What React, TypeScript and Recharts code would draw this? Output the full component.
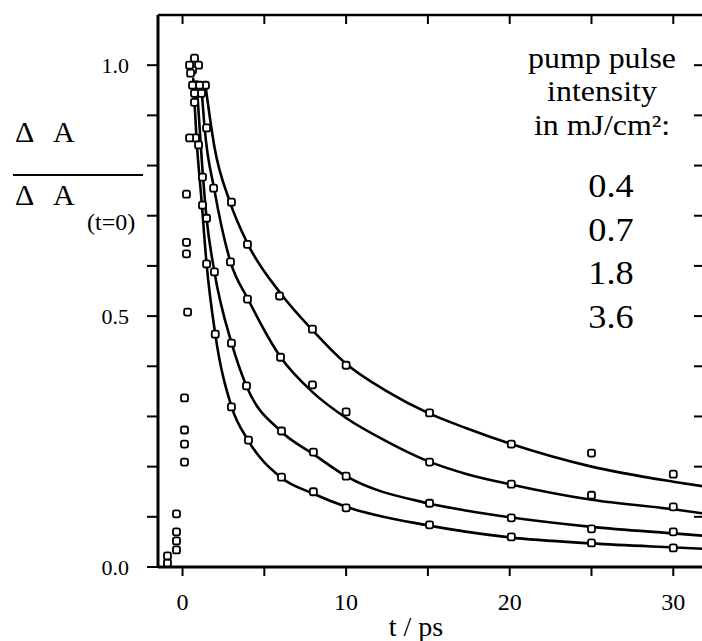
import React from "react";
import { ComposedChart, Line, Scatter, XAxis, YAxis } from "recharts";

// axis ticks
const xTicks = [0, 5, 10, 15, 20, 25, 30];
const xLabels = [0, 10, 20, 30];
const yTicks = [0, 0.1, 0.2, 0.3, 0.4, 0.5, 0.6, 0.7, 0.8, 0.9, 1.0];
const yLabels = [0, 0.5, 1.0];

const legendTitle = ["pump pulse", "intensity", "in mJ/cm²:"];
const intensities = ["0.4", "0.7", "1.8", "3.6"];

// fitted decay curves (t in ps, normalised dA)
const fit04 = [
  { t: 1.4, v: 0.96 }, { t: 1.95, v: 0.837 }, { t: 2.9, v: 0.727 }, { t: 4.0, v: 0.643 },
  { t: 6.0, v: 0.545 }, { t: 8.0, v: 0.47 }, { t: 10.0, v: 0.405 }, { t: 12.5, v: 0.35 },
  { t: 15.0, v: 0.307 }, { t: 17.4, v: 0.276 }, { t: 20.0, v: 0.246 }, { t: 25.0, v: 0.2 },
  { t: 30.0, v: 0.17 }, { t: 32.0, v: 0.16 },
];
const fit07 = [
  { t: 1.15, v: 0.96 }, { t: 1.35, v: 0.875 }, { t: 1.95, v: 0.751 }, { t: 2.93, v: 0.608 },
  { t: 4.0, v: 0.534 }, { t: 6.0, v: 0.418 }, { t: 8.0, v: 0.347 }, { t: 10.0, v: 0.297 },
  { t: 12.5, v: 0.25 }, { t: 15.0, v: 0.211 }, { t: 17.4, v: 0.185 }, { t: 20.0, v: 0.165 },
  { t: 25.0, v: 0.134 }, { t: 30.0, v: 0.115 }, { t: 32.0, v: 0.106 },
];
const fit18 = [
  { t: 0.85, v: 0.97 }, { t: 1.2, v: 0.8 }, { t: 1.47, v: 0.695 }, { t: 1.95, v: 0.588 },
  { t: 3.0, v: 0.446 }, { t: 3.9, v: 0.361 }, { t: 6.0, v: 0.271 }, { t: 8.0, v: 0.225 },
  { t: 10.0, v: 0.181 }, { t: 15.0, v: 0.127 }, { t: 17.4, v: 0.112 }, { t: 20.0, v: 0.099 },
  { t: 25.0, v: 0.08 }, { t: 30.0, v: 0.067 }, { t: 32.0, v: 0.062 },
];
const fit36 = [
  { t: 0.65, v: 0.975 }, { t: 0.86, v: 0.851 }, { t: 1.16, v: 0.731 }, { t: 1.47, v: 0.604 },
  { t: 2.0, v: 0.464 }, { t: 3.0, v: 0.319 }, { t: 4.0, v: 0.253 }, { t: 6.0, v: 0.179 },
  { t: 8.0, v: 0.146 }, { t: 10.0, v: 0.12 }, { t: 15.0, v: 0.083 }, { t: 17.4, v: 0.07 },
  { t: 20.0, v: 0.059 }, { t: 25.0, v: 0.047 }, { t: 30.0, v: 0.039 }, { t: 32.0, v: 0.036 },
];

// measured points
const pts04 = [
  { t: -0.37, v: 0.034 }, { t: 0.12, v: 0.209 }, { t: 0.31, v: 0.508 }, { t: 0.73, v: 1.014 },
  { t: 1.4, v: 0.96 }, { t: 1.47, v: 0.875 }, { t: 2.99, v: 0.727 }, { t: 3.97, v: 0.643 },
  { t: 5.93, v: 0.54 }, { t: 7.94, v: 0.474 }, { t: 10.0, v: 0.402 }, { t: 15.1, v: 0.307 },
  { t: 20.1, v: 0.245 }, { t: 25.0, v: 0.227 }, { t: 30.0, v: 0.185 },
];
const pts07 = [
  { t: -0.37, v: 0.052 }, { t: 0.12, v: 0.245 }, { t: 0.24, v: 0.624 }, { t: 0.98, v: 1.0 },
  { t: 1.04, v: 0.96 }, { t: 0.98, v: 0.841 }, { t: 1.9, v: 0.755 }, { t: 2.93, v: 0.608 },
  { t: 3.97, v: 0.534 }, { t: 5.99, v: 0.418 }, { t: 7.94, v: 0.363 }, { t: 10.0, v: 0.309 },
  { t: 15.1, v: 0.209 }, { t: 20.1, v: 0.165 }, { t: 25.0, v: 0.143 }, { t: 30.0, v: 0.12 },
];
const pts18 = [
  { t: -0.92, v: 0.008 }, { t: -0.37, v: 0.07 }, { t: 0.12, v: 0.273 }, { t: 0.24, v: 0.647 },
  { t: 0.61, v: 0.99 }, { t: 1.16, v: 0.944 }, { t: 0.79, v: 0.855 }, { t: 1.22, v: 0.777 },
  { t: 1.47, v: 0.695 }, { t: 1.95, v: 0.588 }, { t: 2.99, v: 0.446 }, { t: 3.91, v: 0.361 },
  { t: 6.05, v: 0.271 }, { t: 8.0, v: 0.229 }, { t: 10.0, v: 0.181 }, { t: 15.1, v: 0.127 },
  { t: 20.1, v: 0.098 }, { t: 25.0, v: 0.076 }, { t: 30.0, v: 0.07 },
];
const pts36 = [
  { t: -0.92, v: 0.022 }, { t: -0.37, v: 0.106 }, { t: 0.12, v: 0.337 }, { t: 0.24, v: 0.743 },
  { t: 0.43, v: 1.0 }, { t: 0.49, v: 0.984 }, { t: 0.61, v: 0.96 }, { t: 0.73, v: 0.944 },
  { t: 0.73, v: 0.926 }, { t: 0.43, v: 0.855 }, { t: 1.22, v: 0.721 }, { t: 1.47, v: 0.604 },
  { t: 2.0, v: 0.464 }, { t: 2.99, v: 0.319 }, { t: 4.03, v: 0.253 }, { t: 6.05, v: 0.179 },
  { t: 8.0, v: 0.15 }, { t: 10.0, v: 0.118 }, { t: 15.1, v: 0.084 }, { t: 20.1, v: 0.06 },
  { t: 25.0, v: 0.048 }, { t: 30.0, v: 0.038 },
];

const fits = [fit04, fit07, fit18, fit36];
const points = [pts04, pts07, pts18, pts36];

const serif = "'Liberation Serif', 'Times New Roman', serif";

const Marker = (props: any) => {
  const { cx, cy } = props;
  if (cx == null || cy == null) return null;
  return <rect x={cx - 3.5} y={cy - 3.5} width={7} height={7} rx={2} fill="#fff" stroke="#000" strokeWidth={1.8} />;
};

// tick labels drawn by hand so the serif font and size stick
const LeftLabel = (props: any) => {
  const v = props.payload.value;
  if (!yLabels.includes(v)) return null;
  return (
    <text x={props.x} y={props.y} dy="0.36em" textAnchor="end" fontSize={22} fontFamily={serif} fill="#000">
      {v.toFixed(1)}
    </text>
  );
};
const BottomLabel = (props: any) => {
  const v = props.payload.value;
  if (!xLabels.includes(v)) return null;
  return (
    <text x={props.x} y={props.y} dy="0.71em" textAnchor="middle" fontSize={24} fontFamily={serif} fill="#000">
      {String(v)}
    </text>
  );
};

// ticks pointing into the plot on the top and right frame
const TopTick = (props: any) => (
  <line x1={props.x} x2={props.x} y1={props.y} y2={props.y + 9} stroke="#000" strokeWidth={2} />
);
const RightTick = (props: any) => (
  <line x1={props.x - 12} x2={props.x} y1={props.y} y2={props.y} stroke="#000" strokeWidth={2} />
);

export default function App() {
  return (
    <div style={{ position: "absolute", left: 0, top: 0, width: 702, height: 641, overflow: "hidden", background: "#fff", fontFamily: serif }}>
      <ComposedChart width={712} height={641} margin={{ top: 5, right: 0, bottom: 0, left: 0 }}>
        <XAxis
          xAxisId="bottom"
          type="number"
          dataKey="t"
          domain={[-1.5, 32]}
          allowDataOverflow
          ticks={xTicks}
          height={74}
          tickSize={9}
          tickMargin={17}
          axisLine={{ stroke: "#000", strokeWidth: 3 }}
          tickLine={{ stroke: "#000", strokeWidth: 2 }}
          tick={<BottomLabel />}
        />
        <XAxis
          xAxisId="top"
          orientation="top"
          type="number"
          dataKey="t"
          domain={[-1.5, 32]}
          allowDataOverflow
          ticks={xTicks}
          height={10}
          tickSize={0}
          tickMargin={0}
          axisLine={{ stroke: "#000", strokeWidth: 2.5 }}
          tickLine={false}
          tick={<TopTick />}
        />
        <YAxis
          yAxisId="left"
          type="number"
          domain={[0, 1.1]}
          allowDataOverflow
          ticks={yTicks}
          width={158}
          tickSize={11}
          tickMargin={18}
          axisLine={{ stroke: "#000", strokeWidth: 3 }}
          tickLine={{ stroke: "#000", strokeWidth: 2 }}
          tick={<LeftLabel />}
        />
        <YAxis
          yAxisId="right"
          orientation="right"
          type="number"
          domain={[0, 1.1]}
          allowDataOverflow
          ticks={yTicks}
          width={6}
          tickSize={0}
          tickMargin={0}
          axisLine={{ stroke: "#000", strokeWidth: 3 }}
          tickLine={false}
          tick={<RightTick />}
        />
        {fits.map((d, i) => (
          <Line
            key={"fit" + i}
            xAxisId="bottom"
            yAxisId="left"
            data={d}
            dataKey="v"
            type="monotone"
            stroke="#000"
            strokeWidth={2.6}
            dot={false}
            activeDot={false}
            isAnimationActive={false}
          />
        ))}
        {points.map((d, i) => (
          <Scatter
            key={"pts" + i}
            xAxisId="bottom"
            yAxisId="left"
            data={d}
            dataKey="v"
            shape={<Marker />}
            isAnimationActive={false}
          />
        ))}
      </ComposedChart>

      <svg width={702} height={641} style={{ position: "absolute", left: 0, top: 0, pointerEvents: "none" }} fontFamily={serif} fill="#000">
        {/* y axis label: dA / dA(t=0) */}
        <text x={15} y={142} fontSize={30}>Δ</text>
        <text x={53} y={142} fontSize={30}>A</text>
        <line x1={13} x2={143} y1={175} y2={175} stroke="#000" strokeWidth={2} />
        <text x={15} y={205} fontSize={30}>Δ</text>
        <text x={53} y={205} fontSize={30}>A</text>
        <text x={87} y={230} fontSize={24}>(t=0)</text>

        {/* x axis label */}
        <text x={416} y={636} fontSize={28} textAnchor="middle">t / ps</text>

        {/* legend block */}
        <g transform="translate(602 0) scale(1.1 1)">
          {legendTitle.map((s, i) => (
            <text key={s} x={0} y={68 + i * 33.5} fontSize={29} textAnchor="middle">{s}</text>
          ))}
        </g>
        <g transform="translate(611 0) scale(1.1 1)">
          {intensities.map((s, i) => (
            <text key={s} x={0} y={197 + i * 43.7} fontSize={33} textAnchor="middle">{s}</text>
          ))}
        </g>
      </svg>
    </div>
  );
}
